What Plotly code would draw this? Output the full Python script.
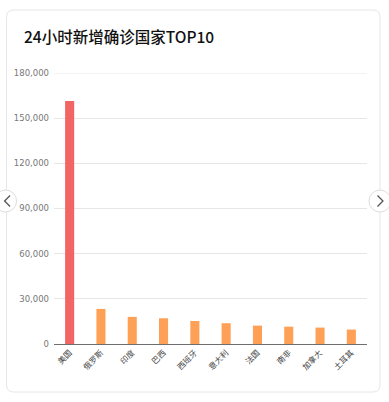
import plotly.graph_objects as go

countries = ["美国", "俄罗斯", "印度", "巴西", "西班牙", "意大利", "法国", "南非", "加拿大", "土耳其"]
new_cases = [161400, 23300, 18000, 17100, 15300, 13800, 12200, 11500, 10900, 9600]
bar_colors = ["#F26565"] + ["#FFA057"] * 9
y_ticks = [0, 30000, 60000, 90000, 120000, 150000, 180000]
title_text = "24小时新增确诊国家TOP10"

W, H = 389, 402
L, R, T, B = 53.5, 22, 73, 58
PW, PH = W - L - R, H - T - B

def px(x):
    return (x - L) / PW

def py(y):
    return (H - B - y) / PH

def rounded_rect(x0, y0, x1, y1, r):
    pts = [
        f"M {px(x0 + r)},{py(y0)}",
        f"L {px(x1 - r)},{py(y0)}",
        f"Q {px(x1)},{py(y0)} {px(x1)},{py(y0 + r)}",
        f"L {px(x1)},{py(y1 - r)}",
        f"Q {px(x1)},{py(y1)} {px(x1 - r)},{py(y1)}",
        f"L {px(x0 + r)},{py(y1)}",
        f"Q {px(x0)},{py(y1)} {px(x0)},{py(y1 - r)}",
        f"L {px(x0)},{py(y0 + r)}",
        f"Q {px(x0)},{py(y0)} {px(x0 + r)},{py(y0)}",
        "Z",
    ]
    return " ".join(pts)

fig = go.Figure(go.Bar(
    x=countries, y=new_cases,
    marker=dict(color=bar_colors, line=dict(width=0)),
    width=0.29,
    hoverinfo="x+y",
))

shapes = [
    dict(type="path", xref="paper", yref="paper", layer="below",
         path=rounded_rect(6, 10, 380, 392, 7),
         line=dict(color="#E6E6E6", width=1), fillcolor="white"),
    # top gridline at 180,000
    dict(type="line", xref="paper", yref="y", x0=0, x1=1, y0=180000, y1=180000,
         layer="below", line=dict(color="#E6E6E6", width=1)),
]
# carousel buttons
for cx in (5, 380):
    r = 11
    shapes.append(dict(type="circle", xref="paper", yref="paper",
                       x0=px(cx - r), x1=px(cx + r), y0=py(201 + r), y1=py(201 - r),
                       line=dict(color="#DDDDDD", width=1), fillcolor="white"))
# chevrons
shapes.append(dict(type="path", xref="paper", yref="paper",
                   path=f"M {px(9.5)},{py(195.5)} L {px(4)},{py(201)} L {px(9.5)},{py(206.5)}",
                   line=dict(color="#555555", width=1.3)))
shapes.append(dict(type="path", xref="paper", yref="paper",
                   path=f"M {px(377.5)},{py(195.5)} L {px(383)},{py(201)} L {px(377.5)},{py(206.5)}",
                   line=dict(color="#555555", width=1.3)))

fig.update_layout(
    width=W, height=H, autosize=False,
    margin=dict(l=L, r=R, t=T, b=B, pad=0),
    paper_bgcolor="white", plot_bgcolor="rgba(0,0,0,0)",
    font=dict(family="Roboto, Noto Sans CJK SC, sans-serif", color="#666666"),
    showlegend=False,
    bargap=0.71,
    shapes=shapes,
    annotations=[dict(
        text=title_text, xref="paper", yref="paper",
        x=px(21), y=py(36), xanchor="left", yanchor="middle",
        showarrow=False,
        font=dict(size=15.5, color="#111111", weight=500,
                  family="Noto Sans CJK SC, Roboto, sans-serif"),
    )],
    xaxis=dict(
        tickangle=-45, tickfont=dict(size=8, color="#444444", family="Noto Sans CJK SC, sans-serif"),
        showline=True, linecolor="#6E6E6E", linewidth=1, ticks="",
        showgrid=False, fixedrange=True,
    ),
    yaxis=dict(
        range=[0, 180000], tickvals=y_ticks, tickformat=",",
        tickfont=dict(size=8.5, color="#777777", family="DejaVu Sans"),
        showgrid=True, gridcolor="#E6E6E6", gridwidth=1,
        zeroline=False, showline=False, ticks="", ticklabelstandoff=4,
        fixedrange=True,
    ),
)

fig.write_html("out.html", config={"displayModeBar": False},
               post_script="document.body.style.margin='0';")
